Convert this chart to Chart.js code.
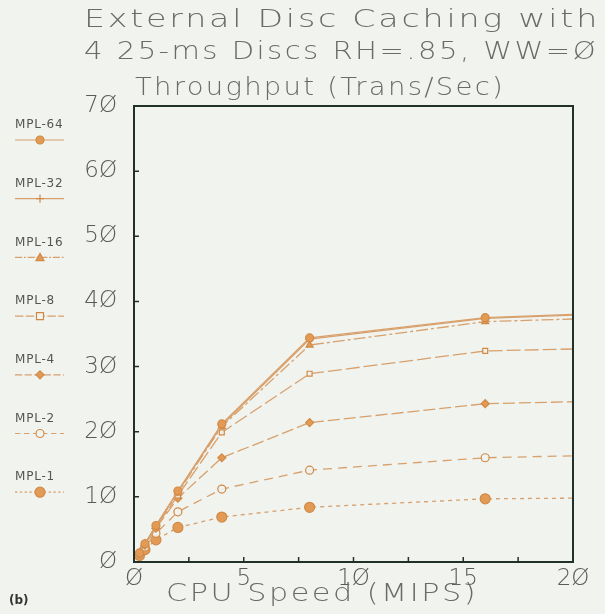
<!DOCTYPE html>
<html><head><meta charset="utf-8">
<script src="https://cdn.jsdelivr.net/npm/chart.js@4"></script>
<style>
html,body{margin:0;padding:0;background:#f0f3ee;}
#wrap{position:relative;width:605px;height:614px;overflow:hidden;background:#f0f3ee;}
canvas{position:absolute;left:0;top:0;}
.t{position:absolute;white-space:nowrap;font-family:"DejaVu Sans",sans-serif;font-weight:200;color:#6a6a6a;line-height:1;transform-origin:0 0;}
</style></head><body>
<div id="wrap">
<canvas id="c" width="605" height="614"></canvas>
<div class="t" data-w="516" style="left:84px;top:7px;font-size:24px">External Disc Caching with</div>
<div class="t" data-w="514" style="left:84px;top:39px;font-size:24px">4 25-ms Discs RH=.85, WW=Ø</div>
<div class="t" data-w="370" style="left:135px;top:75px;font-size:24px">Throughput (Trans/Sec)</div>
<div class="t" data-w="312" style="left:166px;top:581px;font-size:24px">CPU Speed (MIPS)</div>
<div class="t" style="left:9px;top:594px;font-size:12px;font-weight:bold;color:#333">(b)</div>
</div>
<script>
// ---- data ----
const cpuSpeed = [0.25, 0.5, 1, 2, 4, 8, 16, 20];
const seriesNames = ["MPL-64", "MPL-32", "MPL-16", "MPL-8", "MPL-4", "MPL-2", "MPL-1"];
const mpl64 = [1.4, 2.8, 5.6, 10.9, 21.2, 34.4, 37.5, 38.0];
const mpl32 = [1.4, 2.8, 5.6, 10.8, 21.0, 34.2, 37.4, 37.9];
const mpl16 = [1.4, 2.8, 5.5, 10.6, 20.8, 33.3, 36.9, 37.3];
const mpl8  = [1.4, 2.7, 5.4, 10.2, 19.9, 28.9, 32.4, 32.7];
const mpl4  = [1.3, 2.6, 5.2, 9.8, 16.0, 21.4, 24.3, 24.6];
const mpl2  = [1.2, 2.3, 4.4, 7.7, 11.2, 14.1, 16.0, 16.3];
const mpl1  = [1.0, 1.9, 3.4, 5.3, 6.9, 8.4, 9.7, 9.8];
const seriesValues = [mpl64, mpl32, mpl16, mpl8, mpl4, mpl2, mpl1];
const yTicks = [0, 10, 20, 30, 40, 50, 60, 70];
const xTicks = [0, 5, 10, 15, 20];

// ---- styles ----
const lineCol = '#d8a06c';
const markCol = '#e39a55';
const styles = [
  {dash: [], point: 'circle', fill: true, r: 4},
  {dash: [], point: 'cross', fill: false, r: 4},
  {dash: [12, 3, 3, 3], point: 'triangle', fill: true, r: 4},
  {dash: [14, 4], point: 'rect', fill: false, r: 3.5},
  {dash: [12, 4], point: 'rectRot', fill: true, r: 4},
  {dash: [9, 6], point: 'circle', fill: false, r: 4},
  {dash: [4, 4], point: 'circle', fill: true, r: 5}
];
const zeroSlash = s => String(s).replace(/0/g, 'Ø');
const tickFont = {family: '"DejaVu Sans", sans-serif', size: 23, weight: 200};

const datasets = seriesNames.map((name, i) => ({
  label: name,
  data: cpuSpeed.map((x, j) => ({x: x, y: seriesValues[i][j]})),
  showLine: true,
  borderColor: lineCol,
  borderWidth: 1.3,
  borderDash: styles[i].dash,
  pointStyle: styles[i].point,
  pointRadius: cpuSpeed.map(x => x === 20 ? 0 : styles[i].r),
  pointBackgroundColor: styles[i].fill ? markCol : 'rgba(240,243,238,0.9)',
  pointBorderColor: '#d08a48',
  pointBorderWidth: 1.2,
  tension: 0
}));

function marker(ctx, style, r, x, y, fill) {
  ctx.save();
  ctx.setLineDash([]);
  ctx.beginPath();
  if (style === 'circle') { ctx.arc(x, y, r, 0, Math.PI * 2); }
  else if (style === 'rect') { ctx.rect(x - r, y - r, 2 * r, 2 * r); }
  else if (style === 'rectRot') { ctx.moveTo(x, y - r); ctx.lineTo(x + r, y); ctx.lineTo(x, y + r); ctx.lineTo(x - r, y); ctx.closePath(); }
  else if (style === 'triangle') { ctx.moveTo(x, y - r); ctx.lineTo(x + r, y + r * 0.8); ctx.lineTo(x - r, y + r * 0.8); ctx.closePath(); }
  else if (style === 'cross') { ctx.moveTo(x, y - r); ctx.lineTo(x, y + r); ctx.moveTo(x - r, y); ctx.lineTo(x + r, y); }
  if (style !== 'cross') { ctx.fillStyle = fill ? markCol : '#f0f3ee'; ctx.fill(); }
  ctx.strokeStyle = '#d08a48'; ctx.lineWidth = 1.2; ctx.stroke();
  ctx.restore();
}

const framePlugin = {
  id: 'frame',
  afterDraw(chart) {
    const ctx = chart.ctx, a = chart.chartArea;
    const xs = chart.scales.x, ys = chart.scales.y;
    ctx.save();
    ctx.strokeStyle = '#22302a';
    ctx.lineWidth = 2;
    ctx.strokeRect(a.left, a.top, a.right - a.left, a.bottom - a.top);
    ctx.lineWidth = 1.5;
    ctx.beginPath();
    xs.ticks.forEach(t => {
      if (t.value <= xs.min || t.value >= xs.max) return;
      const px = xs.getPixelForValue(t.value);
      ctx.moveTo(px, a.bottom); ctx.lineTo(px, a.bottom - 5);
    });
    ys.ticks.forEach(t => {
      if (t.value <= ys.min || t.value >= ys.max) return;
      const py = ys.getPixelForValue(t.value);
      ctx.moveTo(a.left, py); ctx.lineTo(a.left + 5, py);
    });
    ctx.stroke();
    // legend
    ctx.font = '12px "DejaVu Sans", sans-serif';
    ctx.fillStyle = '#555';
    ctx.textBaseline = 'middle';
    ctx.textAlign = 'left';
    try { ctx.letterSpacing = '0.8px'; } catch (e) {}
    chart.data.datasets.forEach((ds, i) => {
      const ty = 125 + i * 58.7;
      ctx.fillText(ds.label, 15, ty);
      const ly = ty + 15;
      ctx.save();
      ctx.strokeStyle = lineCol; ctx.lineWidth = 1.2;
      ctx.setLineDash(ds.borderDash.length ? ds.borderDash.map(v => v * 0.6) : []);
      ctx.beginPath(); ctx.moveTo(15, ly); ctx.lineTo(64, ly); ctx.stroke();
      ctx.restore();
      marker(ctx, styles[i].point, styles[i].r, 40, ly, styles[i].fill);
    });
    ctx.restore();
  }
};

new Chart(document.getElementById('c'), {
  type: 'scatter',
  data: {datasets: datasets},
  options: {
    responsive: false,
    animation: false,
    layout: {padding: {left: 0, top: 106, right: 32, bottom: 0}},
    plugins: {legend: {display: false}, title: {display: false}, tooltip: {enabled: false}},
    scales: {
      x: {
        type: 'linear', min: 0, max: 20,
        afterBuildTicks: s => { s.ticks = [0, 2.5, 5, 7.5, 10, 12.5, 15, 17.5, 20].map(v => ({value: v})); },
        afterFit: s => { s.height = 52; },
        grid: {display: false, drawTicks: false},
        border: {display: false},
        ticks: {
          autoSkip: false, maxRotation: 0, padding: 3,
          color: '#5a5a5a', font: tickFont,
          callback: v => xTicks.includes(v) ? zeroSlash(v) : ''
        }
      },
      y: {
        type: 'linear', min: 0, max: 70,
        afterBuildTicks: s => { s.ticks = yTicks.map(v => ({value: v})); },
        afterFit: s => { s.width = 134; },
        grid: {display: false, drawTicks: false},
        border: {display: false},
        ticks: {
          padding: 17,
          color: '#5a5a5a', font: tickFont,
          callback: v => zeroSlash(v)
        }
      }
    }
  },
  plugins: [framePlugin]
});

// fit title text widths: small letter spacing plus horizontal stretch (plotter-style wide glyphs)
document.querySelectorAll('.t[data-w]').forEach(el => {
  const target = +el.dataset.w;
  el.style.letterSpacing = '2px';
  const natural = el.getBoundingClientRect().width;
  el.style.transform = 'scaleX(' + (target / natural) + ')';
});
</script>
</body></html>
